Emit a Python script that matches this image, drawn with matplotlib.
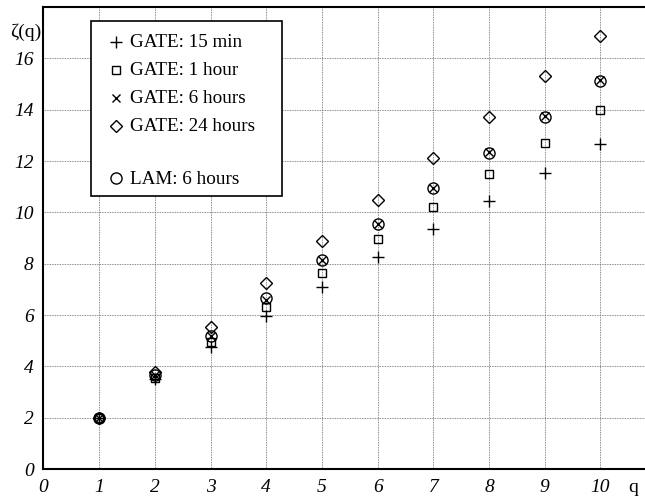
import matplotlib.pyplot as plt
from matplotlib.lines import Line2D
from matplotlib.patches import Rectangle

plt.rcParams["font.family"] = ["Liberation Serif", "DejaVu Serif"]

q = [1, 2, 3, 4, 5, 6, 7, 8, 9, 10]
gate_15min = [2.0, 3.5, 4.75, 5.95, 7.1, 8.25, 9.35, 10.45, 11.55, 12.65]
gate_1h = [2.0, 3.55, 4.95, 6.3, 7.65, 8.95, 10.2, 11.5, 12.7, 14.0]
gate_6h = [2.0, 3.65, 5.2, 6.6, 8.15, 9.55, 10.95, 12.35, 13.75, 15.15]
gate_24h = [2.0, 3.8, 5.55, 7.25, 8.9, 10.5, 12.1, 13.7, 15.3, 16.85]
lam_6h = [2.0, 3.65, 5.2, 6.65, 8.15, 9.55, 10.95, 12.3, 13.7, 15.1]

fig = plt.figure(figsize=(6.45, 4.98), dpi=100)
ax = fig.add_axes([0.0674, 0.058, 0.9326, 0.928])

ax.plot(q, gate_15min, "+", color="black", ms=9, mew=1.0, label="GATE: 15 min")
ax.plot(q, gate_1h, "s", color="black", mfc="none", ms=5.5, mew=1.0, label="GATE: 1 hour")
ax.plot(q, gate_6h, "x", color="black", ms=6, mew=1.0, label="GATE: 6 hours")
ax.plot(q, gate_24h, "D", color="black", mfc="none", ms=6, mew=1.0, label="GATE: 24 hours")
ax.plot(q, lam_6h, "o", color="black", mfc="none", ms=8, mew=1.0, label="LAM: 6 hours")

ax.set_xlim(0, 10.8)
ax.set_ylim(0, 18)
ax.set_xticks(range(0, 11))
ax.set_yticks(range(0, 17, 2))
ax.tick_params(labelsize=14, length=0, pad=7)
for lbl in ax.get_xticklabels() + ax.get_yticklabels():
    lbl.set_fontstyle("italic")

ax.grid(True, color="#666666", linestyle=(0, (1, 1)), linewidth=0.6)
for side in ["left", "bottom", "top"]:
    ax.spines[side].set_linewidth(1.5)
ax.spines["right"].set_visible(False)

ax.text(-0.004, 0.945, "ζ(q)", transform=ax.transAxes, fontsize=14,
        ha="right", va="center")
ax.text(10.58, -0.4, "q", fontsize=14, ha="center", va="top")

# legend box drawn separately so it can be wider than the entries
ax.add_patch(Rectangle((0.079, 0.591), 0.3175, 0.379, transform=ax.transAxes,
                       fill=True, facecolor="white", edgecolor="black",
                       linewidth=1.2, zorder=4))

handles, labels = ax.get_legend_handles_labels()
blank = Line2D([], [], linestyle="none", marker="none")
handles = handles[:4] + [blank] + handles[4:]
labels = labels[:4] + [" "] + labels[4:]
leg = ax.legend(handles, labels, loc="upper left", bbox_to_anchor=(0.0918, 0.962),
                fontsize=13.8, frameon=False, handlelength=0.8, handleheight=0.3,
                handletextpad=0.33, borderpad=0.5, labelspacing=0.58,
                borderaxespad=0)
leg.get_texts()[4].set_fontsize(6)
leg.set_zorder(5)

fig.savefig("out.png", dpi=100)
